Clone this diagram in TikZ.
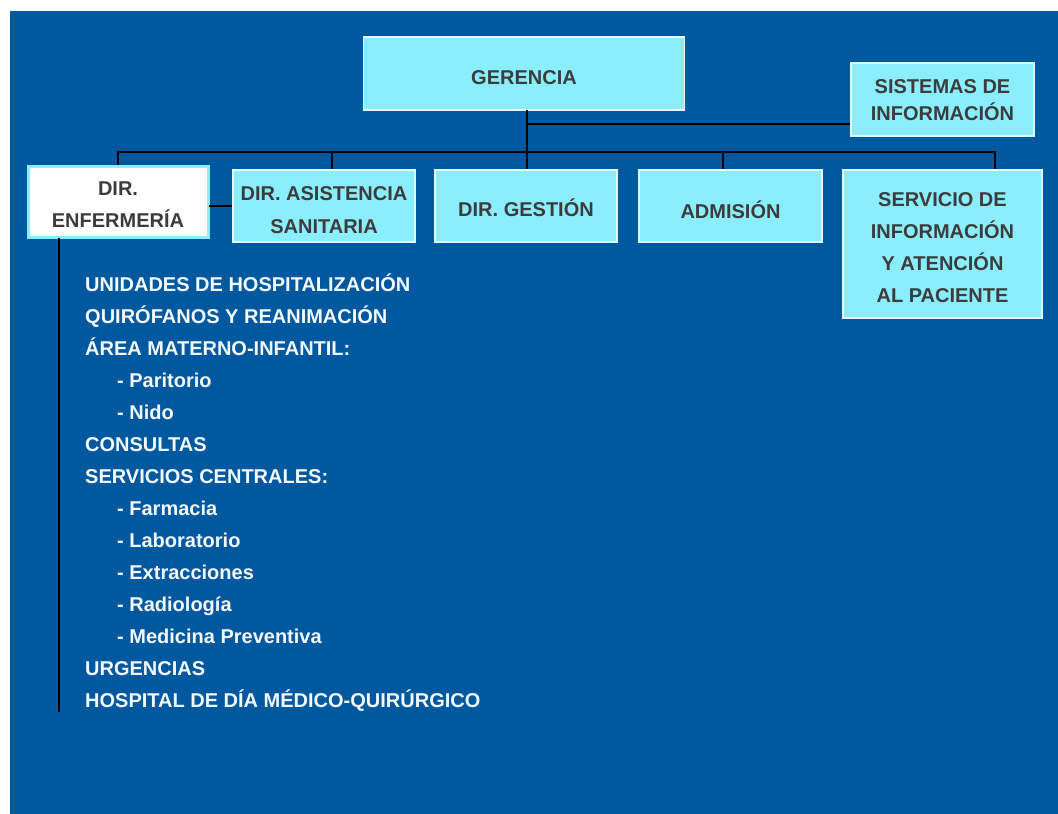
\documentclass[tikz,border=0pt]{standalone}
\usepackage{fontspec}
\setmainfont{Liberation Sans}
\definecolor{bgblue}{RGB}{0,88,158}
\definecolor{boxcyan}{RGB}{138,238,254}
\definecolor{boxedge}{RGB}{225,250,255}
\definecolor{boxtext}{RGB}{60,60,60}
\definecolor{listtext}{RGB}{245,248,252}
\begin{document}
\begin{tikzpicture}[x=1pt,y=-1pt,
  orgbox/.style={rectangle, fill=boxcyan, draw=boxedge, line width=1.5pt, inner sep=0pt},
  enfbox/.style={orgbox, fill=white, draw=boxcyan, line width=3pt},
  boxlabel/.style={inner sep=0pt, text=boxtext, align=center, font=\fontsize{20}{32}\selectfont\bfseries},
  conn/.style={draw=black, line width=1.6pt},
  item/.style={anchor=base west, inner sep=0pt, text=listtext, font=\fontsize{20}{22}\selectfont\bfseries}]
\useasboundingbox (0,0) rectangle (1058,814);
\fill[white] (0,0) rectangle (1058,814);
\fill[bgblue] (10,11) rectangle (1058,814);
% boxes
\node[orgbox, minimum width=321pt, minimum height=73pt] (ger) at (524,73.5) {};
\node[orgbox, minimum width=183pt, minimum height=73pt] (sis) at (942.5,99.5) {};
\node[enfbox, minimum width=180pt, minimum height=71pt] (enf) at (118,201.5) {};
\node[orgbox, minimum width=182pt, minimum height=72pt] (asi) at (324,206) {};
\node[orgbox, minimum width=182pt, minimum height=72pt] (ges) at (526,206) {};
\node[orgbox, minimum width=183pt, minimum height=72pt] (adm) at (730.5,206) {};
\node[orgbox, minimum width=199pt, minimum height=148pt] (srv) at (942.5,244) {};
% box texts
\node[boxlabel] (gerT) at ([yshift=-4pt]ger.center) {GERENCIA};
\node[boxlabel, font=\fontsize{20}{27}\selectfont\bfseries] (sisT) at ([yshift=-1pt]sis.center) {SISTEMAS DE\\INFORMACIÓN};
\node[boxlabel] (enfT) at ([yshift=-3pt]enf.center) {DIR.\\ENFERMERÍA};
\node[boxlabel, font=\fontsize{20}{33}\selectfont\bfseries] (asiT) at ([yshift=-4pt]asi.center) {DIR. ASISTENCIA\\SANITARIA};
\node[boxlabel] (gesT) at ([yshift=-1.5pt]ges.center) {DIR. GESTIÓN};
\node[boxlabel] (admT) at ([yshift=-3.5pt]adm.center) {ADMISIÓN};
\node[boxlabel] (srvT) at ([yshift=-4pt]srv.center) {SERVICIO DE\\INFORMACIÓN\\Y ATENCIÓN\\AL PACIENTE};
% connector points
\coordinate (gdrop) at (527,110);
\coordinate (sisj) at (527,124);
\coordinate (busR) at (995,152);
\coordinate (asij) at (332,152);
\coordinate (admj) at (723,152);
\coordinate (enfj) at (209,206);
\coordinate (vtop) at (59,238);
\coordinate (vend) at (59,712);
% connectors
\draw[conn] (gdrop) -- (gdrop |- ges.north);
\draw[conn] (sisj) -- (sisj -| sis.west);
\draw[conn] (enf.north) |- (busR) -- (busR |- srv.north);
\draw[conn] (asij) -- (asij |- asi.north);
\draw[conn] (admj) -- (admj |- adm.north);
\draw[conn] (enfj) -- (enfj -| asi.west);
\draw[conn] (vtop) -- (vend);
% list
\node[item] (l1) at (85,291) {UNIDADES DE HOSPITALIZACIÓN};
\node[item] (l2) at (85,323) {QUIRÓFANOS Y REANIMACIÓN};
\node[item] (l3) at (85,355) {ÁREA MATERNO-INFANTIL:};
\node[item] (l4) at (117,387) {- Paritorio};
\node[item] (l5) at (117,419) {- Nido};
\node[item] (l6) at (85,451) {CONSULTAS};
\node[item] (l7) at (85,483) {SERVICIOS CENTRALES:};
\node[item] (l8) at (117,515) {- Farmacia};
\node[item] (l9) at (117,547) {- Laboratorio};
\node[item] (l10) at (117,579) {- Extracciones};
\node[item] (l11) at (117,611) {- Radiología};
\node[item] (l12) at (117,643) {- Medicina Preventiva};
\node[item] (l13) at (85,675) {URGENCIAS};
\node[item] (l14) at (85,707) {HOSPITAL DE DÍA MÉDICO-QUIRÚRGICO};
\end{tikzpicture}
\end{document}
